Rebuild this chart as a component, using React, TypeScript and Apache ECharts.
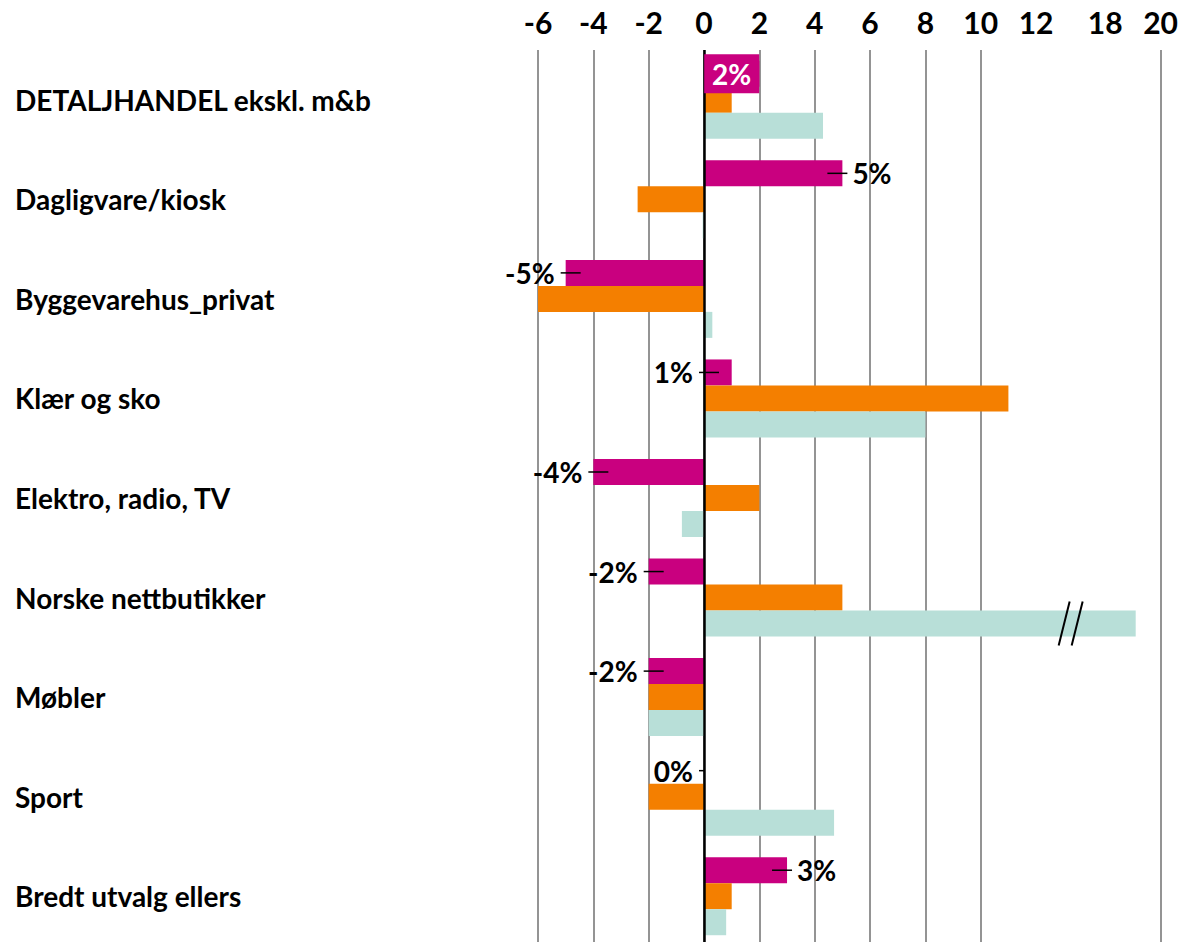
import React, { useEffect, useRef } from 'react';
import * as echarts from 'echarts';

// ---- data ----
const categories = [
  'DETALJHANDEL ekskl. m&b',
  'Dagligvare/kiosk',
  'Byggevarehus_privat',
  'Klær og sko',
  'Elektro, radio, TV',
  'Norske nettbutikker',
  'Møbler',
  'Sport',
  'Bredt utvalg ellers',
];
const seriesMagenta = [2, 5, -5, 1, -4, -2, -2, 0, 3];
const seriesOrange = [1, -2.4, -6, 11, 2, 5, -2, -2, 1];
const seriesTeal = [4.3, -0.05, 0.3, 8, -0.8, 19.1, -2, 4.7, 0.8];
const xTicks = [-6, -4, -2, 0, 2, 4, 6, 8, 10, 12, 18, 20];
const axisBreak = { start: 12, end: 18 };

// ---- styling ----
const MAGENTA = '#C9007F';
const ORANGE = '#F47F00';
const TEAL = '#B8DFD8';
const FONT = 'Lato, "Open Sans", sans-serif';
const BAR_W = 26;
const labelPlacement = ['inside', 'right', 'left', 'left', 'left', 'left', 'left', 'left', 'right'];

const fmtPct = (v: number) => `${v}%`;

export default function App() {
  const ref = useRef<HTMLDivElement>(null);
  useEffect(() => {
    if (!ref.current) return;
    const chart = echarts.init(ref.current, null, { renderer: 'svg' });
    const textFont = `bold 28px ${FONT}`;

    const breakCats = seriesTeal
      .map((v, i) => (v > axisBreak.end ? i : -1))
      .filter((i) => i >= 0)
      .map((i) => [axisBreak.start, i]);

    const option: any = {
      animation: false,
      grid: { left: 538, right: 20, top: 50, bottom: 0, containLabel: false },
      xAxis: {
        type: 'value',
        position: 'top',
        min: -6,
        max: 20,
        interval: 2,
        breaks: [{ start: axisBreak.start, end: axisBreak.end, gap: 2.5 }],
        breakArea: { show: false },
        axisLine: { show: false },
        axisTick: { show: false },
        axisLabel: {
          fontSize: 30,
          fontWeight: 'bold',
          fontFamily: FONT,
          color: '#000',
          margin: 13,
          formatter: (v: number) => (xTicks.includes(v) ? String(v) : ''),
        },
        splitLine: { show: true, lineStyle: { color: '#707070', width: 1.5 } },
      },
      yAxis: {
        type: 'category',
        data: categories,
        inverse: true,
        axisLine: { show: false },
        axisTick: { show: false },
        axisLabel: {
          align: 'left',
          margin: 523,
          fontSize: 28,
          fontWeight: 'bold',
          fontFamily: FONT,
          color: '#000',
          padding: [4, 0, 0, 0],
        },
        splitLine: { show: false },
      },
      series: [
        {
          type: 'bar',
          data: seriesMagenta,
          barWidth: BAR_W,
          barGap: '0%',
          itemStyle: { color: MAGENTA },
          markLine: {
            silent: true,
            symbol: 'none',
            label: { show: false },
            lineStyle: { color: '#000', width: 2.5, type: 'solid' },
            data: [{ xAxis: 0 }],
            z: 10,
          },
        },
        { type: 'bar', data: seriesOrange, barWidth: BAR_W, barGap: '0%', itemStyle: { color: ORANGE } },
        { type: 'bar', data: seriesTeal, barWidth: BAR_W, barGap: '0%', itemStyle: { color: TEAL } },
        {
          type: 'custom',
          z: 20,
          data: seriesMagenta.map((v, i) => [v, i]),
          encode: { x: 0, y: 1 },
          renderItem: (params: any, api: any) => {
            const i = params.dataIndex;
            const v = api.value(0);
            const cat = api.value(1);
            const end = api.coord([v, cat]);
            const zero = api.coord([0, cat]);
            const y = end[1] - BAR_W;
            const place = labelPlacement[i];
            if (place === 'inside') {
              const cx = (end[0] + zero[0]) / 2;
              return {
                type: 'group',
                children: [
                  { type: 'rect', shape: { x: cx - 27.5, y: y - 19.5, width: 55, height: 39 }, style: { fill: MAGENTA } },
                  { type: 'text', x: cx, y: y, style: { text: fmtPct(v), fill: '#fff', font: textFont, align: 'center', verticalAlign: 'middle' } },
                ],
              };
            }
            if (place === 'right') {
              return {
                type: 'group',
                children: [
                  { type: 'line', shape: { x1: end[0] - 15, y1: y, x2: end[0] + 5, y2: y }, style: { stroke: '#000', lineWidth: 1.5 } },
                  { type: 'text', x: end[0] + 10, y: y, style: { text: fmtPct(v), fill: '#000', font: textFont, align: 'left', verticalAlign: 'middle' } },
                ],
              };
            }
            const anchor = Math.min(end[0], zero[0]);
            const lineEnd = Math.min(anchor + 15, Math.max(end[0], zero[0]));
            return {
              type: 'group',
              children: [
                { type: 'line', shape: { x1: anchor - 5, y1: y, x2: lineEnd, y2: y }, style: { stroke: '#000', lineWidth: 1.5 } },
                { type: 'text', x: anchor - 11, y: y, style: { text: fmtPct(v), fill: '#000', font: textFont, align: 'right', verticalAlign: 'middle' } },
              ],
            };
          },
        },
        {
          type: 'custom',
          z: 20,
          data: breakCats,
          encode: { x: 0, y: 1 },
          renderItem: (params: any, api: any) => {
            const cat = api.value(1);
            const p1 = api.coord([axisBreak.start, cat]);
            const p2 = api.coord([axisBreak.end, cat]);
            const cx = (p1[0] + p2[0]) / 2;
            const cy = p1[1] + BAR_W;
            const mk = (dx: number) => ({
              type: 'line',
              shape: { x1: cx + dx + 5.5, y1: cy - 22, x2: cx + dx - 5.5, y2: cy + 22 },
              style: { stroke: '#000', lineWidth: 2 },
            });
            return { type: 'group', children: [mk(-6.5), mk(6.5)] };
          },
        },
      ],
    };
    chart.setOption(option);
    return () => chart.dispose();
  }, []);
  return (
    <div
      ref={ref}
      style={{ position: 'fixed', left: 0, top: 0, width: 1181, height: 946, background: '#fff' }}
    />
  );
}
